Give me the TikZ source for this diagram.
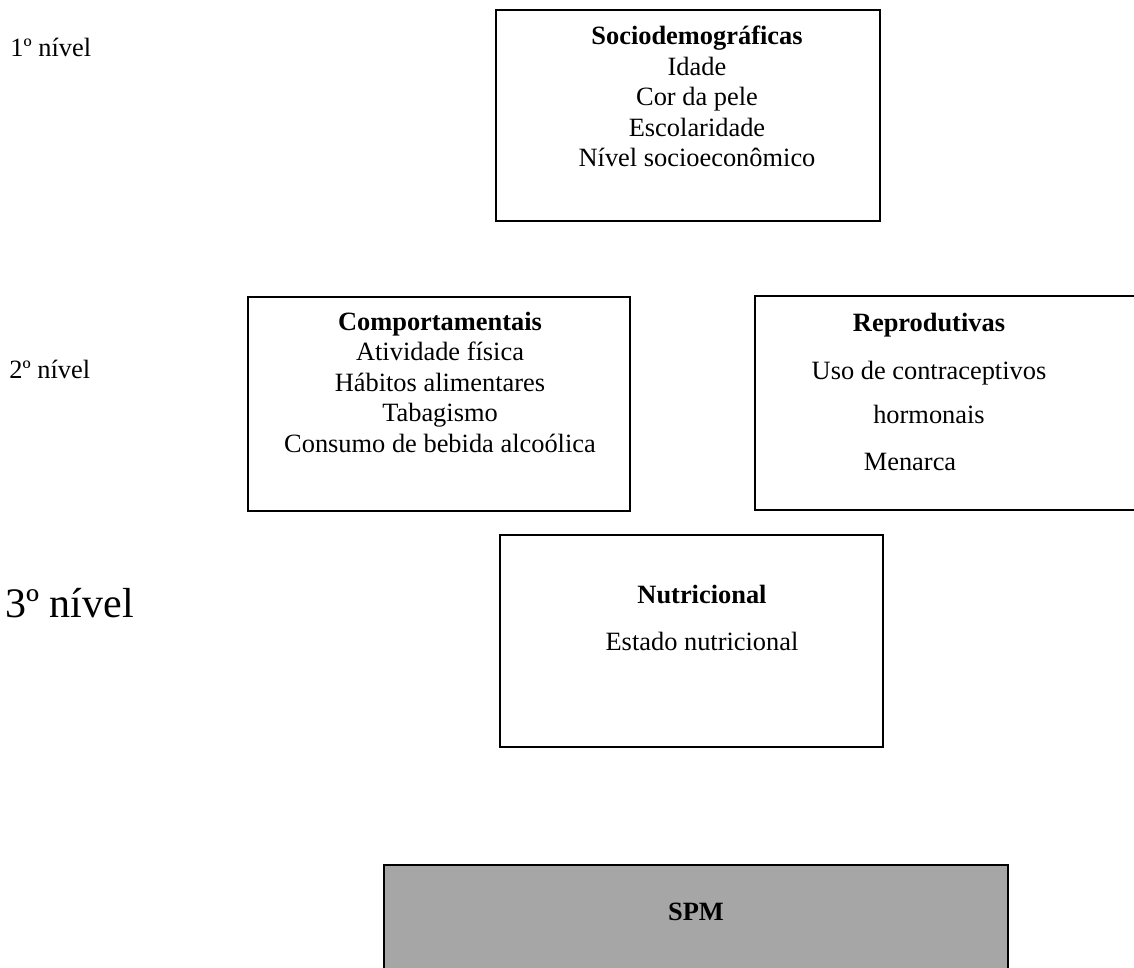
\documentclass[tikz,border=0pt]{standalone}
\usepackage{fontspec}
\setmainfont{Liberation Serif}
\usetikzlibrary{positioning}
\definecolor{spmgray}{RGB}{166, 166, 166}

\begin{document}
\begin{tikzpicture}[
    x=0.5pt, y=-0.5pt,
    box/.style={rectangle, draw=black, line width=1.2pt, inner sep=0pt},
    boxtext/.style={anchor=base, align=center, inner sep=0pt, font=\fontsize{13.2}{15.25}\selectfont},
    lvl/.style={anchor=base west, inner sep=0pt, font=\fontsize{13.2}{15.25}\selectfont},
]
\useasboundingbox (0,0) rectangle (1134,968);

% boxes
\node[box, minimum width=192pt, minimum height=105.5pt] (socio) at (688,115.5) {};
\node[box, minimum width=191pt, minimum height=107pt] (comp) at (439,404) {};
\node[box, minimum width=192.5pt, minimum height=107pt] (repr) at (947.5,403) {};
\node[box, minimum width=191.5pt, minimum height=106pt] (nutr) at (691.5,641) {};
\node[box, fill=spmgray, minimum width=312pt, minimum height=106pt] (spm) at (696,971) {};

% texts (base = baseline of the last line)
\node[boxtext] (sociotxt) at (697,167) {\textbf{Sociodemográficas}\\Idade\\Cor da pele\\Escolaridade\\Nível socioeconômico};
\node[boxtext] (comptxt) at (440,452) {\textbf{Comportamentais}\\Atividade física\\Hábitos alimentares\\Tabagismo\\Consumo de bebida alcoólica};
\node[boxtext] (reprtxt) at (929,470) {\textbf{Reprodutivas}\\[8.5pt]Uso de contraceptivos\\[7pt]hormonais\\[8pt]Menarca\hspace*{19pt}};
\node[boxtext] (nutrtxt) at (702,650) {\textbf{Nutricional}\\[8pt]Estado nutricional};
\node[boxtext] (spmtxt) at (696,920) {\textbf{SPM}};

% levels
\node[lvl] (n1) at (10,57) {1º nível};
\node[lvl] (n2) at (9,378) {2º nível};
\node[lvl, font=\fontsize{21}{24}\selectfont] (n3) at (5,617) {3º nível};

\end{tikzpicture}
\end{document}
